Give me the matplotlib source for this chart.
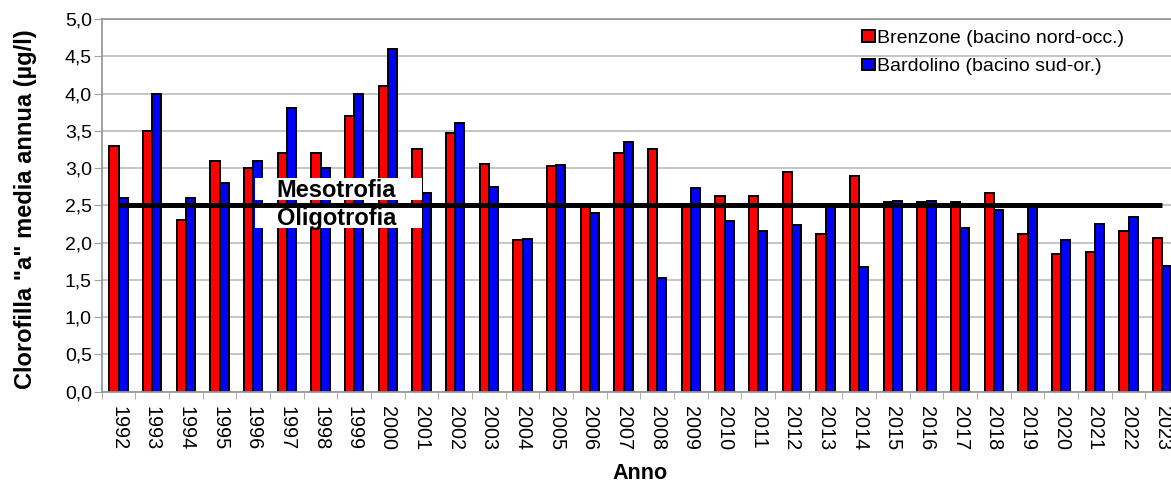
import numpy as np
import matplotlib.pyplot as plt
from matplotlib.patches import Rectangle
from matplotlib.ticker import FixedLocator, FuncFormatter

plt.rcParams["font.family"] = ["Liberation Sans", "DejaVu Sans"]

# ==========================================
# Data
# ==========================================
anni = list(range(1992, 2024))
brenzone = [3.30, 3.50, 2.30, 3.10, 3.00, 3.20, 3.20, 3.70, 4.10, 3.26,
            3.47, 3.05, 2.04, 3.03, 2.49, 3.20, 3.25, 2.49, 2.63, 2.62,
            2.95, 2.12, 2.90, 2.55, 2.55, 2.54, 2.66, 2.12, 1.85, 1.87,
            2.16, 2.06]
bardolino = [2.60, 4.00, 2.60, 2.80, 3.10, 3.80, 3.00, 4.00, 4.60, 2.66,
             3.61, 2.74, 2.05, 3.04, 2.40, 3.35, 1.52, 2.73, 2.29, 2.16,
             2.23, 2.50, 1.67, 2.56, 2.56, 2.20, 2.44, 2.50, 2.04, 2.25,
             2.35, 1.69]
soglia = 2.5  # limite meso/oligotrofia

# ==========================================
# Plot
# ==========================================
W, H = 1171, 483
fig = plt.figure(figsize=(W / 100, H / 100), dpi=100)
x0, x1, y0, y1 = 101.7, 1179.0, 391.7, 19.0
ax = fig.add_axes([x0 / W, (H - y0) / H, (x1 - x0) / W, (y0 - y1) / H])

x = np.arange(len(anni))
bw = 0.275
ax.bar(x - bw / 2, brenzone, bw, color="#ff0000", edgecolor="black",
       linewidth=1.4, label="Brenzone (bacino nord-occ.)", zorder=2)
ax.bar(x + bw / 2, bardolino, bw, color="#0000ff", edgecolor="black",
       linewidth=1.4, label="Bardolino (bacino sud-or.)", zorder=2)

# white label boxes + threshold line
for (yb, yt, ytxt, txt) in [(2.572, 2.863, 2.608, "Mesotrofia"),
                            (2.192, 2.460, 2.236, "Oligotrofia")]:
    ax.add_patch(Rectangle((4.054, yb), 9.007 - 4.054, yt - yb,
                           facecolor="white", edgecolor="none", zorder=3))
    ax.text(6.47, ytxt, txt, ha="center", va="baseline",
            fontsize=17, fontweight="bold", zorder=4)
ax.plot([x[0], x[-1]], [soglia, soglia], color="black", linewidth=3.6,
        solid_capstyle="butt", zorder=5)

ax.set_xlim(-0.5, len(anni) - 0.5)
ax.set_ylim(0, 5)
ax.set_yticks(np.arange(0, 5.01, 0.5))
ax.yaxis.set_major_formatter(FuncFormatter(lambda v, p: f"{v:.1f}".replace(".", ",")))
ax.grid(axis="y", color="#c0c0c0", linewidth=1.3, zorder=0)
ax.set_axisbelow(True)

ax.set_xticks(x)
ax.set_xticklabels([str(a) for a in anni], rotation=-90, fontsize=14.3)
ax.xaxis.set_minor_locator(FixedLocator(np.arange(-0.5, len(anni), 1.0)))
ax.tick_params(axis="x", which="major", length=0, pad=10)
ax.tick_params(axis="x", which="minor", length=5, color="#a0a0a0")
ax.tick_params(axis="y", length=5.5, color="#a0a0a0", labelsize=14, pad=1.5)

for side in ["left", "top", "bottom"]:
    ax.spines[side].set_color("#999999")
    ax.spines[side].set_linewidth(1.3)
ax.spines["right"].set_visible(False)

ax.set_ylabel('Clorofilla "a" media annua (µg/l)', fontsize=17,
              fontweight="bold")
ax.yaxis.set_label_coords(-0.060, 0.49)
ax.set_xlabel("Anno", fontsize=15.5, fontweight="bold", va="top")
ax.xaxis.set_label_coords(0.5, -0.19)

ax.legend(loc="upper left", bbox_to_anchor=((862 - x0) / (x1 - x0), 0.9705),
          frameon=False, fontsize=14, handlelength=0.67, handleheight=0.52,
          handletextpad=0.08, labelspacing=0.58, borderaxespad=0, borderpad=0)

fig.savefig("out.png", dpi=100)
